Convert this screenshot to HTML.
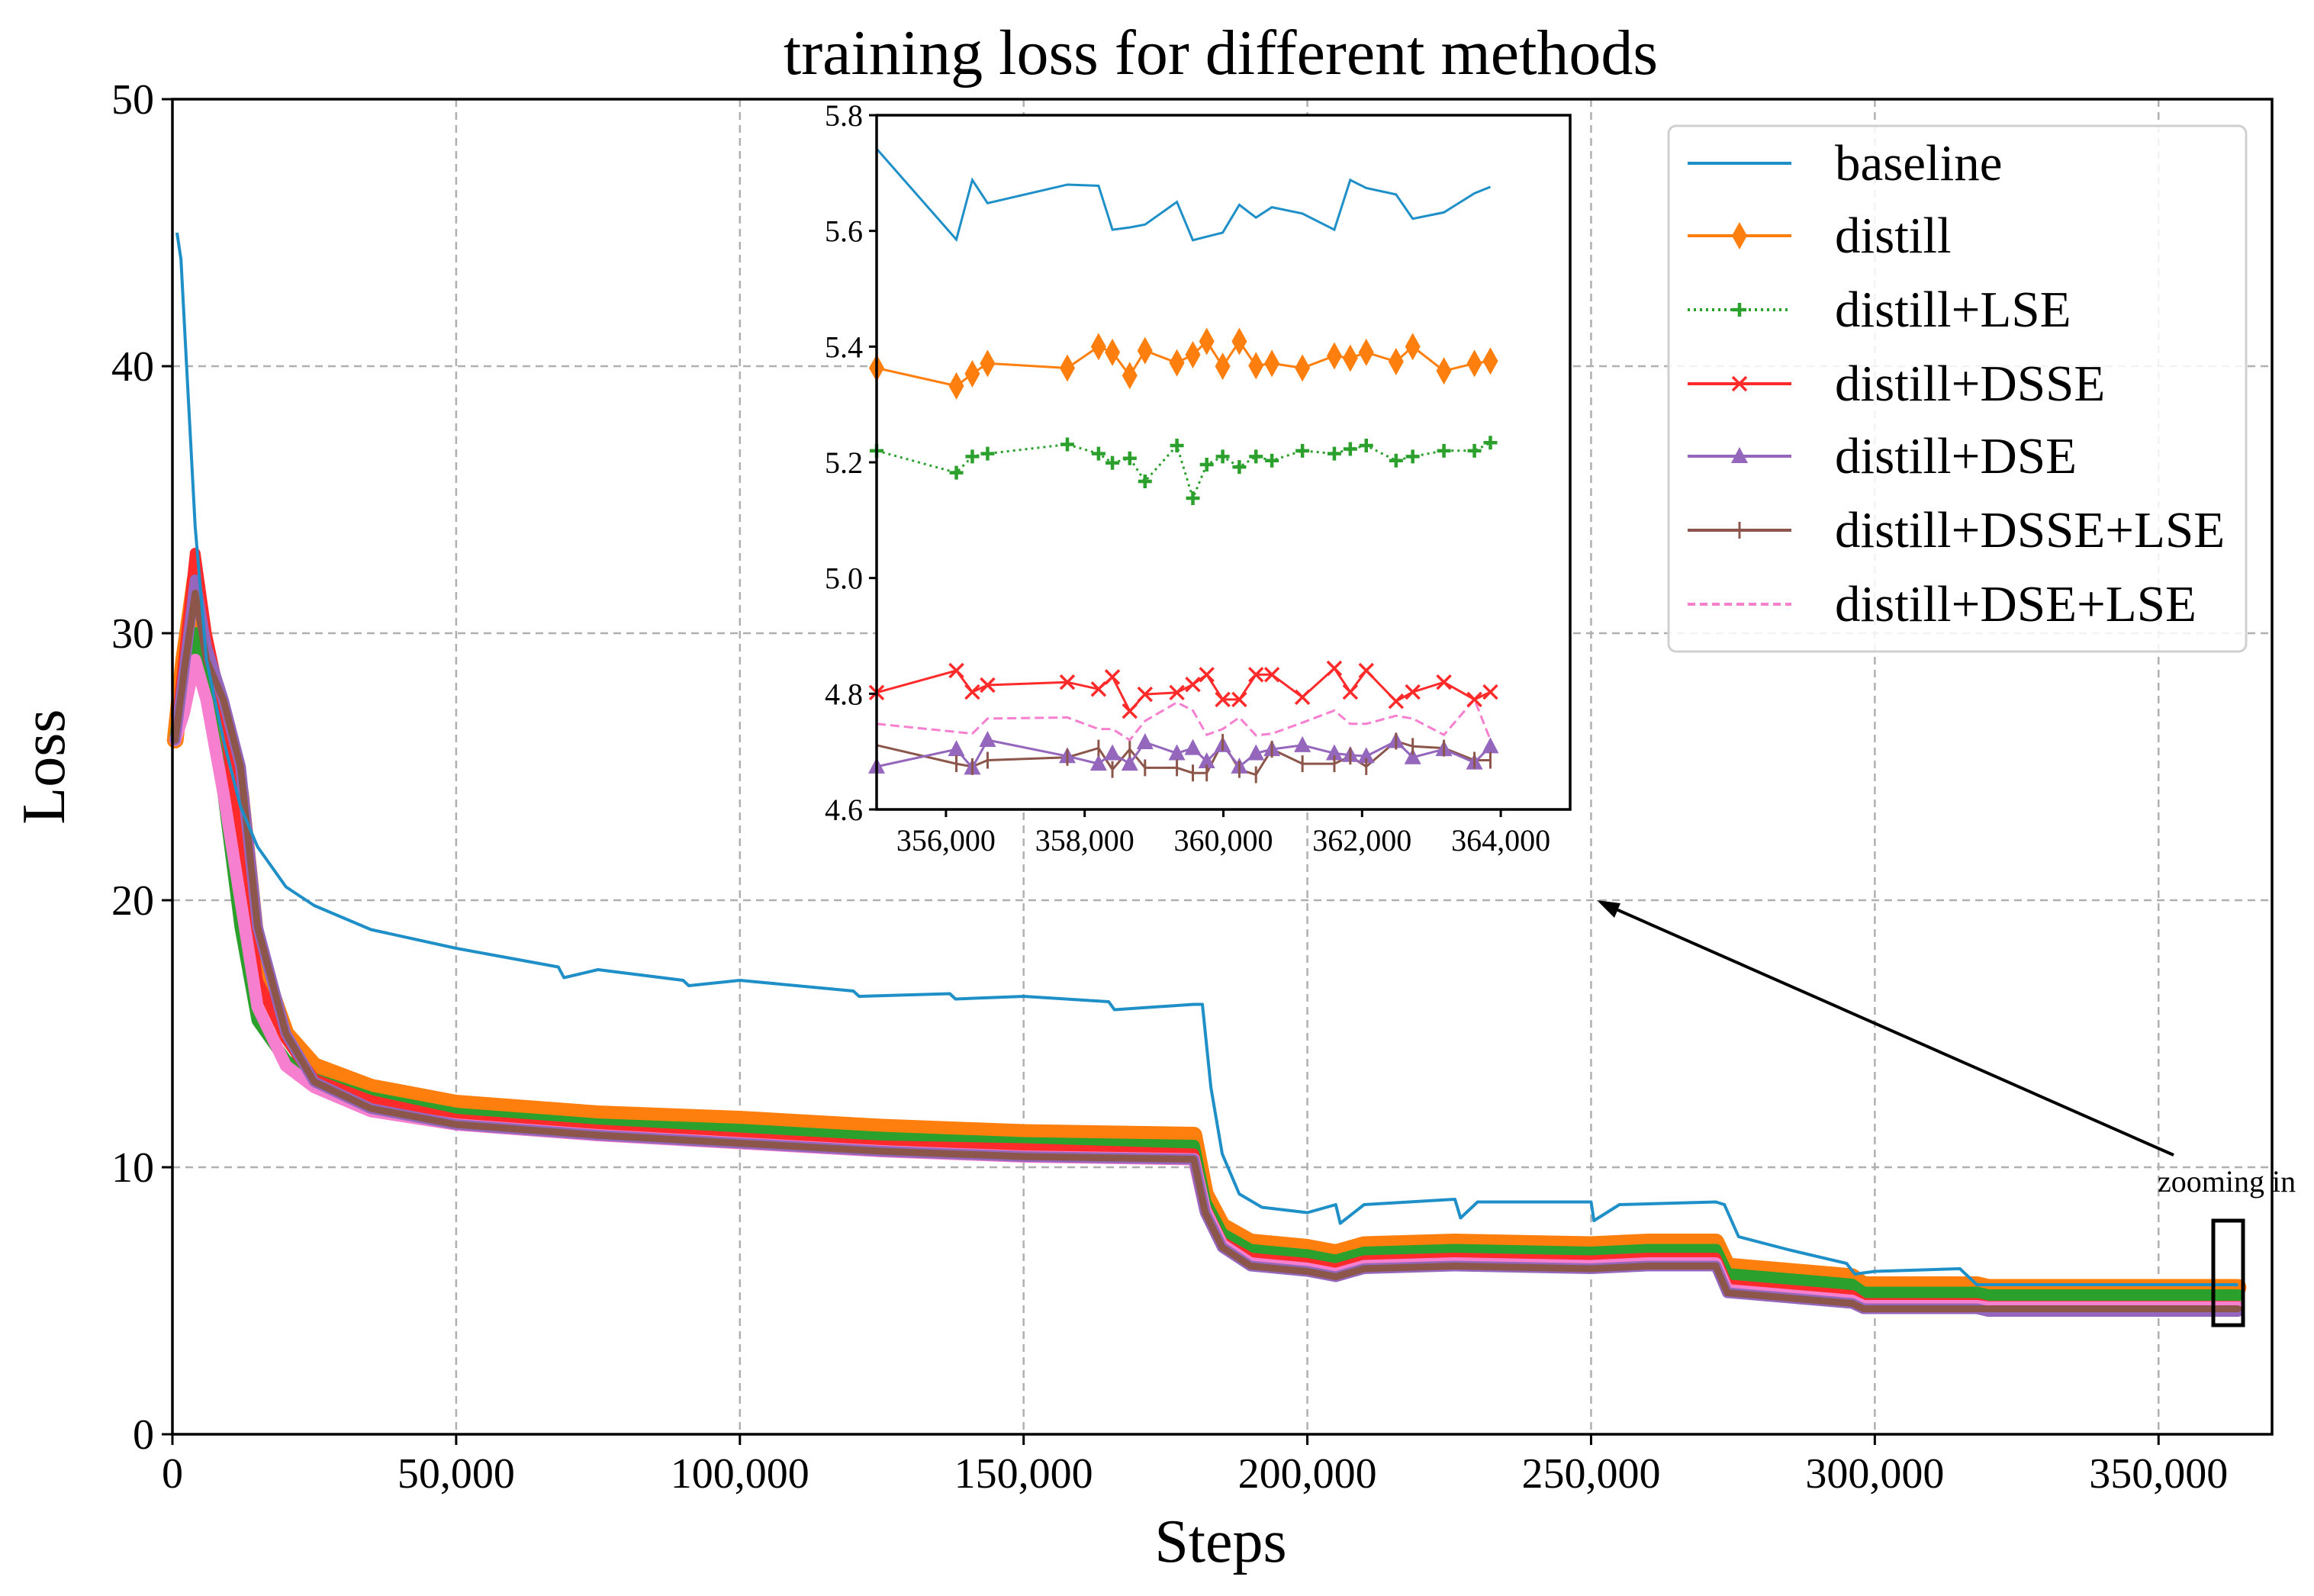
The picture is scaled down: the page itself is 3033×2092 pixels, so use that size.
<!DOCTYPE html>
<html><head><meta charset="utf-8"><style>
html,body{margin:0;padding:0;background:#fff;}
svg{display:block;font-family:"Liberation Serif",serif;}
</style></head><body>
<svg id="chart" width="3033" height="2092" viewBox="0 0 3033 2092" xmlns="http://www.w3.org/2000/svg">
<rect width="3033" height="2092" fill="#fff"/>
<text x="1600" y="97" font-size="84" text-anchor="middle">training loss for different methods</text>
<text x="1600" y="2047" font-size="80" text-anchor="middle">Steps</text>
<text x="0" y="0" font-size="80" text-anchor="middle" transform="translate(84,1005) rotate(-90)">Loss</text>
<g id="main-grid"></g>
<g id="main-series"></g>
<g id="main-axes"></g>
<g id="annot"></g>
<g id="inset"></g>
<g id="legend"></g>
</svg>
<script>
// ---- main chart data ----
const mainXTicks=[0,50000,100000,150000,200000,250000,300000,350000];
const mainXTickLabels=["0","50,000","100,000","150,000","200,000","250,000","300,000","350,000"];
const mainYTicks=[0,10,20,30,40,50];
const baselineSteps=[800,1500,2500,4000,6000,9000,12000,15000,20000,25000,35000,50000,68000,69000,75000,90000,91000,100000,120000,121000,137000,138000,150000,165000,166000,180000,181500,183000,185000,188000,192000,200000,205000,205800,210000,226000,227000,230000,250000,250500,255000,272000,273500,276000,285000,295000,296500,300000,315000,318000,320000,340000,364000];
const baselineVals=[45,44,40,34,29,26,23.5,22,20.5,19.8,18.9,18.2,17.5,17.1,17.4,17.0,16.8,17.0,16.6,16.4,16.5,16.3,16.4,16.2,15.9,16.1,16.1,13,10.5,9,8.5,8.3,8.6,7.9,8.6,8.8,8.1,8.7,8.7,8.0,8.6,8.7,8.6,7.4,6.9,6.4,6.0,6.1,6.2,5.6,5.6,5.6,5.6];
const methodSteps=[500,2000,4000,6000,9000,12000,15000,20000,25000,35000,50000,75000,100000,125000,150000,180000,182000,185000,190000,200000,205000,210000,226000,250000,260000,272000,274000,285000,296000,298000,310000,318000,320000,340000,364000];
const distillVals=[26,29,32,29,27,24,18,15,13.8,13,12.4,12.0,11.8,11.5,11.3,11.2,9,7.8,7.2,7.0,6.8,7.1,7.2,7.1,7.2,7.2,6.3,6.1,5.9,5.6,5.6,5.6,5.5,5.5,5.5];
const lseVals=[26,28.5,30,28,24,19,15.5,14,13.3,12.6,12.0,11.6,11.4,11.1,10.9,10.8,8.7,7.5,6.9,6.7,6.5,6.8,6.9,6.8,6.9,6.9,6.0,5.8,5.6,5.3,5.3,5.3,5.2,5.2,5.2];
const dsseVals=[26,29,33,30,27,22,17,14.8,13.3,12.5,11.8,11.4,11.1,10.8,10.7,10.5,8.5,7.2,6.6,6.4,6.2,6.5,6.6,6.5,6.6,6.6,5.6,5.4,5.2,4.9,4.9,4.9,4.8,4.8,4.8];
const dseVals=[26,28.5,32,29.5,27.5,25,19,15,13.2,12.2,11.6,11.2,10.9,10.6,10.4,10.3,8.3,7.0,6.3,6.1,5.9,6.2,6.3,6.2,6.3,6.3,5.3,5.1,4.9,4.7,4.7,4.7,4.6,4.6,4.6];
const dsseLseVals=[26,28.5,31.5,29,27.5,25,19,15,13.2,12.2,11.6,11.2,10.9,10.6,10.4,10.3,8.3,7.0,6.3,6.1,5.9,6.2,6.3,6.2,6.3,6.3,5.3,5.1,4.9,4.7,4.7,4.7,4.7,4.7,4.7];
const dseLseVals=[26,27,29,27.5,24,20,16,13.8,13,12.1,11.6,11.2,10.9,10.6,10.4,10.3,8.4,7.1,6.4,6.2,6.0,6.3,6.4,6.3,6.4,6.4,5.4,5.2,5.0,4.8,4.8,4.8,4.75,4.75,4.75];
// ---- inset data ----
const insetXTicks=[356000,358000,360000,362000,364000];
const insetXTickLabels=["356,000","358,000","360,000","362,000","364,000"];
const insetYTicks=[4.6,4.8,5.0,5.2,5.4,5.6,5.8];
const insetYTickLabels=["4.6","4.8","5.0","5.2","5.4","5.6","5.8"];
const insetSteps=[355000,356150,356380,356600,357750,358200,358400,358650,358870,359330,359560,359760,359990,360230,360470,360700,361140,361600,361830,362060,362490,362730,363180,363620,363850];
const insetBaseline=[5.742,5.585,5.688,5.648,5.68,5.678,5.602,5.606,5.611,5.65,5.584,5.59,5.597,5.645,5.623,5.641,5.63,5.602,5.688,5.674,5.663,5.621,5.632,5.665,5.676];
const insetDistill=[5.363,5.332,5.353,5.371,5.363,5.4,5.39,5.35,5.393,5.372,5.386,5.409,5.366,5.409,5.367,5.371,5.363,5.384,5.38,5.39,5.374,5.4,5.358,5.371,5.375];
const insetLse=[5.22,5.182,5.21,5.215,5.231,5.215,5.199,5.207,5.167,5.229,5.138,5.196,5.21,5.192,5.21,5.203,5.22,5.215,5.223,5.229,5.203,5.21,5.22,5.22,5.234];
const insetDsse=[4.802,4.84,4.803,4.815,4.82,4.808,4.829,4.77,4.799,4.802,4.816,4.833,4.79,4.79,4.833,4.833,4.794,4.844,4.803,4.84,4.787,4.803,4.82,4.79,4.803];
const insetDseLse=[4.748,4.734,4.731,4.757,4.759,4.739,4.739,4.72,4.753,4.785,4.771,4.729,4.739,4.759,4.728,4.731,4.75,4.771,4.748,4.748,4.762,4.757,4.729,4.79,4.72];
const insetDse=[4.674,4.704,4.672,4.72,4.692,4.679,4.697,4.679,4.716,4.697,4.706,4.683,4.711,4.674,4.697,4.704,4.711,4.697,4.694,4.692,4.718,4.69,4.704,4.681,4.709];
const insetDsseLse=[4.711,4.679,4.674,4.685,4.69,4.706,4.669,4.704,4.672,4.672,4.663,4.663,4.716,4.669,4.66,4.704,4.679,4.679,4.692,4.674,4.718,4.709,4.706,4.685,4.685];

const NS="http://www.w3.org/2000/svg";
function mk(parent,tag,attrs){const e=document.createElementNS(NS,tag);for(const k in attrs)e.setAttribute(k,attrs[k]);parent.appendChild(e);return e;}
const C={baseline:"#1f8fc8",distill:"#ff7f0e",lse:"#2ca02c",dsse:"#ff2a2a",dse:"#9467bd",dsseLse:"#8c564b",dseLse:"#f77fd0"};

const ML=226,MR=2978,MT=130,MB=1880;
const mx=v=>ML+v/370000*(MR-ML);
const my=v=>MB-v/50*(MB-MT);
const grid=document.getElementById('main-grid');
mainXTicks.forEach((t,i)=>{
  if(i>0){const g=mk(grid,'line',{x1:mx(t),x2:mx(t),y1:MT,y2:MB,stroke:'#b0b0b0','stroke-width':2.5,'stroke-dasharray':'10,7'});
  }
});
mainYTicks.forEach((t,i)=>{
  if(i>0&&i<5){const g=mk(grid,'line',{x1:ML,x2:MR,y1:my(t),y2:my(t),stroke:'#b0b0b0','stroke-width':2.5,'stroke-dasharray':'10,7'});
  }
});
const ser=document.getElementById('main-series');
function pathD(xs,ys,fx,fy){return xs.map((x,i)=>(i?'L':'M')+fx(x).toFixed(1)+','+fy(ys[i]).toFixed(1)).join(' ');}
const bands=[['distill',distillVals,'distill-band'],['lse',lseVals,'distill-lse-band'],['dsse',dsseVals,'distill-dsse-band'],['dseLse',dseLseVals,'distill-dse-lse-band'],['dse',dseVals,'distill-dse-band'],['dsseLse',dsseLseVals,'distill-dsse-lse-band']];
const widths={distill:22,lse:16,dsse:14,dseLse:16,dse:14,dsseLse:9};
bands.forEach(([k,v,n])=>{
  const p=mk(ser,'path',{d:pathD(methodSteps,v,mx,my),fill:'none',stroke:C[k],'stroke-width':widths[k],'stroke-linejoin':'round','stroke-linecap':'round'});
  
});
const bp=mk(ser,'path',{d:pathD(baselineSteps,baselineVals,mx,my),fill:'none',stroke:C.baseline,'stroke-width':4,'stroke-linejoin':'round'});


const ax=document.getElementById('main-axes');
const frame=mk(ax,'rect',{x:ML,y:MT,width:MR-ML,height:MB-MT,fill:'none',stroke:'#000','stroke-width':3.5});

mainXTicks.forEach((t,i)=>{
  mk(ax,'line',{x1:mx(t),x2:mx(t),y1:MB,y2:MB+14,stroke:'#000','stroke-width':3});
  const tx=mk(ax,'text',{x:mx(t),y:MB+70,'font-size':56,'text-anchor':'middle'});tx.textContent=mainXTickLabels[i];
  
});
mainYTicks.forEach(t=>{
  mk(ax,'line',{x1:ML-14,x2:ML,y1:my(t),y2:my(t),stroke:'#000','stroke-width':3});
  const tx=mk(ax,'text',{x:ML-24,y:my(t)+19,'font-size':56,'text-anchor':'end'});tx.textContent=String(t);
  
});

const an=document.getElementById('annot');
const zr=mk(an,'rect',{x:2901,y:1600,width:39,height:137,fill:'none',stroke:'#000','stroke-width':5});

const zt=mk(an,'text',{x:2828,y:1562,'font-size':40});zt.textContent='zooming in';

const ar=mk(an,'line',{x1:2849,y1:1514,x2:2105,y2:1186,stroke:'#000','stroke-width':4});

mk(an,'path',{d:'M2093,1180 L2124,1184 L2116,1203 Z',fill:'#000'});

const IL=1149,IR=2058,IT=151,IB=1061;
const ix=v=>IL+(v-355000)/10000*(IR-IL);
const iy=v=>IB-(v-4.6)/1.2*(IB-IT);
const ins=document.getElementById('inset');
const ibg=mk(ins,'rect',{x:IL,y:IT,width:IR-IL,height:IB-IT,fill:'#fff'});

function insetLine(vals,k,name,dash,w){
  const p=mk(ins,'path',{d:pathD(insetSteps,vals,ix,iy),fill:'none',stroke:C[k],'stroke-width':w||3});
  if(dash)p.setAttribute('stroke-dasharray',dash);
  
}
insetLine(insetBaseline,'baseline','inset-baseline-line');
insetLine(insetDseLse,'dseLse','inset-dse-lse-line','12,6');
insetLine(insetDsseLse,'dsseLse','inset-dsse-lse-line');
insetLine(insetDse,'dse','inset-dse-line');
insetLine(insetDsse,'dsse','inset-dsse-line');
insetLine(insetLse,'lse','inset-lse-line','3,5');
insetLine(insetDistill,'distill','inset-distill-line');
function marker(g,type,x,y,col){
  let e;
  if(type==='diamond')e=mk(g,'path',{d:`M${x},${y-18} L${x+10},${y} L${x},${y+18} L${x-10},${y} Z`,fill:col});
  else if(type==='plus')e=mk(g,'path',{d:`M${x-9},${y} L${x+9},${y} M${x},${y-9} L${x},${y+9}`,stroke:col,'stroke-width':4.5});
  else if(type==='x')e=mk(g,'path',{d:`M${x-9},${y-9} L${x+9},${y+9} M${x+9},${y-9} L${x-9},${y+9}`,stroke:col,'stroke-width':3.5});
  else if(type==='tri')e=mk(g,'path',{d:`M${x},${y-12} L${x+11},${y+9} L${x-11},${y+9} Z`,fill:col});
  else if(type==='vline')e=mk(g,'path',{d:`M${x},${y-11} L${x},${y+11}`,stroke:col,'stroke-width':3});
  return e;
}
[[insetDistill,'distill','diamond'],[insetLse,'lse','plus'],[insetDsse,'dsse','x'],[insetDse,'dse','tri'],[insetDsseLse,'dsseLse','vline']].forEach(([vals,k,t])=>{
  vals.forEach((v,i)=>{
    const m=marker(ins,t,ix(insetSteps[i]),iy(v),C[k]);
    
    
  });
});
const ifr=mk(ins,'rect',{x:IL,y:IT,width:IR-IL,height:IB-IT,fill:'none',stroke:'#000','stroke-width':3.5});

insetXTicks.forEach((t,i)=>{
  mk(ins,'line',{x1:ix(t),x2:ix(t),y1:IB,y2:IB+10,stroke:'#000','stroke-width':3});
  const tx=mk(ins,'text',{x:ix(t),y:IB+54,'font-size':40,'text-anchor':'middle'});tx.textContent=insetXTickLabels[i];
  
});
insetYTicks.forEach((t,i)=>{
  mk(ins,'line',{x1:IL-10,x2:IL,y1:iy(t),y2:iy(t),stroke:'#000','stroke-width':3});
  const tx=mk(ins,'text',{x:IL-18,y:iy(t)+14,'font-size':40,'text-anchor':'end'});tx.textContent=insetYTickLabels[i];
  
});

const lg=document.getElementById('legend');
const lbox=mk(lg,'rect',{x:2187,y:165,width:757,height:689,rx:10,fill:'#fff','fill-opacity':0.85,stroke:'#d0d0d0','stroke-width':3});

const entries=[['baseline','baseline',null,null],['distill','distill','diamond',null],['lse','distill+LSE','plus','3,5'],['dsse','distill+DSSE','x',null],['dse','distill+DSE','tri',null],['dsseLse','distill+DSSE+LSE','vline',null],['dseLse','distill+DSE+LSE',null,'10,6']];
const rowsY=[214,309,406,503,598,695,792];
entries.forEach(([k,label,m,dash],i)=>{
  const y=rowsY[i];
  const g=mk(lg,'g',{});
  
  
  const l=mk(g,'line',{x1:2212,x2:2348,y1:y,y2:y,stroke:C[k],'stroke-width':4});
  if(dash)l.setAttribute('stroke-dasharray',dash);
  if(m)marker(g,m,2280,y,C[k]);
  const t=mk(g,'text',{x:2405,y:y+22,'font-size':67});t.textContent=label;
});
</script>
</body></html>
